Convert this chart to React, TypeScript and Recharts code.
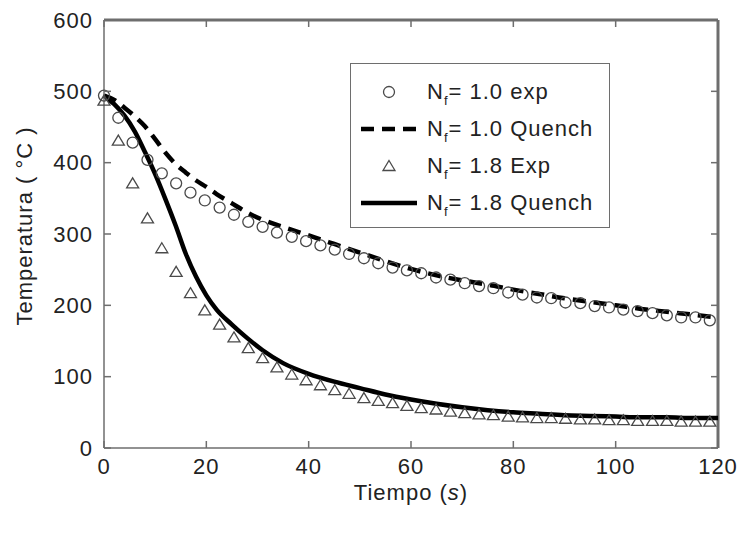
import React from 'react';
import { ComposedChart, Line, Scatter, XAxis, YAxis, Legend, ReferenceLine } from 'recharts';

// measured experiment times (s), same for both exp series
const expTimes = [
  0, 2.8, 5.6, 8.5, 11.3, 14.1, 16.9, 19.7, 22.6, 25.4, 28.2, 31.0, 33.8, 36.7, 39.5,
  42.3, 45.1, 47.9, 50.8, 53.6, 56.4, 59.2, 62.0, 64.9, 67.7, 70.5, 73.3, 76.1, 79.0,
  81.8, 84.6, 87.4, 90.2, 93.1, 95.9, 98.7, 101.5, 104.3, 107.2, 110.0, 112.8, 115.6, 118.4,
];
const exp10 = [
  494, 463, 428, 404, 385, 371, 358, 347, 337, 327, 317, 310, 302, 296, 290,
  284, 278, 272, 266, 259, 253, 249, 245, 239, 236, 231, 227, 224, 218,
  215, 211, 210, 204, 203, 199, 197, 194, 192, 189, 186, 183, 183, 179,
];
const exp18 = [
  487, 431, 371, 322, 280, 247, 217, 193, 173, 155, 140, 126, 113, 103, 95,
  88, 81, 76, 70, 66, 63, 59, 56, 54, 51, 49, 47, 46, 44,
  43, 42, 42, 41, 40, 40, 39, 39, 38, 38, 38, 37, 37, 37,
];

// simulated (Quench) curves
const simTimes = [
  0, 2, 4, 6, 8, 10, 12, 14, 16, 18, 20, 22, 25, 28, 31, 35, 40, 45, 50, 55, 60,
  65, 70, 75, 80, 85, 90, 95, 100, 105, 110, 115, 120,
];
const quench10 = [
  494, 488, 477, 465, 451, 433, 414, 398, 386, 375, 366, 356, 343, 330, 320, 310, 298, 286, 274, 262, 251,
  242, 235, 229, 222, 216, 210, 205, 200, 195, 191, 187, 183,
];
const quench18 = [
  494, 482, 466, 444, 415, 384, 349, 312, 272, 240, 214, 194, 173, 154, 137, 119, 104, 93, 84, 75, 68,
  62, 57, 53, 50, 48, 46, 45, 44, 43, 43, 42, 42,
];

const xTicks = [0, 20, 40, 60, 80, 100, 120];
const yTicks = [0, 100, 200, 300, 400, 500, 600];
const legendLabels = ['= 1.0 exp', '= 1.0 Quench', '= 1.8 Exp', '= 1.8 Quench'];

const zip = (ts: number[], vs: number[]) => ts.map((t, i) => ({ t, v: vs[i] }));

const W = 741;
const H = 534;
const MARGIN = { top: 20, right: 23, bottom: 30, left: 0 };
const Y_AXIS_W = 104;
const X_AXIS_H = 56;
const PLOT_W = W - MARGIN.left - MARGIN.right - Y_AXIS_W;
const PLOT_H = H - MARGIN.top - MARGIN.bottom - X_AXIS_H;
const TICK_IN = 7;
const AXIS = '#6e6e6e';
const MARK = '#4a4a4a';
const TEXT = '#222';
const FONT = '"Liberation Sans", Arial, sans-serif';

const textStyle = { fontFamily: FONT, fontSize: 22, letterSpacing: 1 };

// tick labels outside, tick marks pointing into the plot (both sides)
const YTick = (props: any) => {
  const { x, y, payload } = props;
  const left = x + 11;
  return (
    <g>
      <line x1={left} x2={left + TICK_IN} y1={y} y2={y} stroke={AXIS} strokeWidth={1.5} />
      <line x1={left + PLOT_W - TICK_IN} x2={left + PLOT_W} y1={y} y2={y} stroke={AXIS} strokeWidth={1.5} />
      <text x={x} y={y} dy="0.35em" textAnchor="end" fill={TEXT} style={textStyle}>
        {payload.value}
      </text>
    </g>
  );
};

const XTick = (props: any) => {
  const { x, y, payload } = props;
  const bottom = y - 10;
  return (
    <g>
      <line x1={x} x2={x} y1={bottom} y2={bottom - TICK_IN} stroke={AXIS} strokeWidth={1.5} />
      <line x1={x} x2={x} y1={bottom - PLOT_H} y2={bottom - PLOT_H + TICK_IN} stroke={AXIS} strokeWidth={1.5} />
      <text x={x} y={y} dy="0.71em" textAnchor="middle" fill={TEXT} style={textStyle}>
        {payload.value}
      </text>
    </g>
  );
};

const XLabel = (props: any) => {
  const vb = props.viewBox;
  return (
    <text x={vb.x + vb.width / 2} y={vb.y + 52} textAnchor="middle" fill={TEXT} style={textStyle}>
      Tiempo (<tspan fontStyle="italic">s</tspan>)
    </text>
  );
};

const YLabel = (props: any) => {
  const vb = props.viewBox;
  const cx = vb.x + 32;
  const cy = vb.y + 206;
  return (
    <text x={cx} y={cy} transform={`rotate(-90, ${cx}, ${cy})`} textAnchor="middle" fill={TEXT} style={textStyle}>
      Temperatura ( °C )
    </text>
  );
};

const CircleMark = (p: any) => (
  <circle cx={p.cx} cy={p.cy} r={5.5} fill="none" stroke={MARK} strokeWidth={1.3} />
);

const TriMark = (p: any) => (
  <path
    d={`M${p.cx},${p.cy - 5.5} L${p.cx + 6},${p.cy + 4.5} L${p.cx - 6},${p.cy + 4.5} Z`}
    fill="none"
    stroke={MARK}
    strokeWidth={1.3}
  />
);

const legendSymbols = [
  <circle cx={38} cy={18} r={5.5} fill="none" stroke={MARK} strokeWidth={1.3} />,
  <line x1={10} x2={66} y1={18} y2={18} stroke="#000" strokeWidth={4.5} strokeDasharray="13 8" />,
  <path d="M38,12.5 L44,22.5 L32,22.5 Z" fill="none" stroke={MARK} strokeWidth={1.3} />,
  <line x1={10} x2={66} y1={18} y2={18} stroke="#000" strokeWidth={4.5} />,
];

const LegendBox = () => (
  <div
    style={{
      width: 260,
      height: 165,
      boxSizing: 'border-box',
      border: `1.5px solid ${AXIS}`,
      background: '#fff',
      paddingTop: 10,
      fontFamily: FONT,
      fontSize: 22,
      letterSpacing: 1,
      color: TEXT,
    }}
  >
    {legendLabels.map((label, i) => (
      <div key={label} style={{ display: 'flex', alignItems: 'center', height: 37 }}>
        <svg width={76} height={37} style={{ flex: 'none' }}>
          {legendSymbols[i]}
        </svg>
        <span style={{ whiteSpace: 'nowrap', lineHeight: '37px' }}>
          N<span style={{ fontSize: 13, position: 'relative', top: 6 }}>f</span>
          {label}
        </span>
      </div>
    ))}
  </div>
);

export default function App() {
  return (
    <div style={{ position: 'absolute', left: 0, top: 0, width: W, height: H, background: '#fff' }}>
      <ComposedChart width={W} height={H} margin={MARGIN}>
        <XAxis
          type="number"
          dataKey="t"
          domain={[0, 120]}
          ticks={xTicks}
          height={X_AXIS_H}
          tickSize={0}
          tickMargin={10}
          tick={<XTick />}
          axisLine={{ stroke: AXIS, strokeWidth: 1.5 }}
          label={XLabel}
        />
        <YAxis
          type="number"
          dataKey="v"
          domain={[0, 600]}
          ticks={yTicks}
          width={Y_AXIS_W}
          tickSize={0}
          tickMargin={11}
          tick={<YTick />}
          axisLine={{ stroke: AXIS, strokeWidth: 1.5 }}
          label={YLabel}
        />
        {/* closing frame: top and right edges (half of the stroke is clipped) */}
        <ReferenceLine y={600} stroke={AXIS} strokeWidth={3} />
        <ReferenceLine x={120} stroke={AXIS} strokeWidth={3} />
        <Legend
          layout="vertical"
          align="center"
          verticalAlign="middle"
          content={<LegendBox />}
          wrapperStyle={{ left: 350, top: 63, width: 260, height: 165 }}
        />
        <Scatter name="Nf = 1.0 exp" data={zip(expTimes, exp10)} dataKey="v" shape={CircleMark} isAnimationActive={false} />
        <Scatter name="Nf = 1.8 Exp" data={zip(expTimes, exp18)} dataKey="v" shape={TriMark} isAnimationActive={false} />
        <Line
          name="Nf = 1.0 Quench"
          data={zip(simTimes, quench10)}
          dataKey="v"
          type="monotone"
          stroke="#000"
          strokeWidth={4.5}
          strokeDasharray="13 8"
          dot={false}
          isAnimationActive={false}
        />
        <Line
          name="Nf = 1.8 Quench"
          data={zip(simTimes, quench18)}
          dataKey="v"
          type="monotone"
          stroke="#000"
          strokeWidth={4.5}
          dot={false}
          isAnimationActive={false}
        />
      </ComposedChart>
    </div>
  );
}
